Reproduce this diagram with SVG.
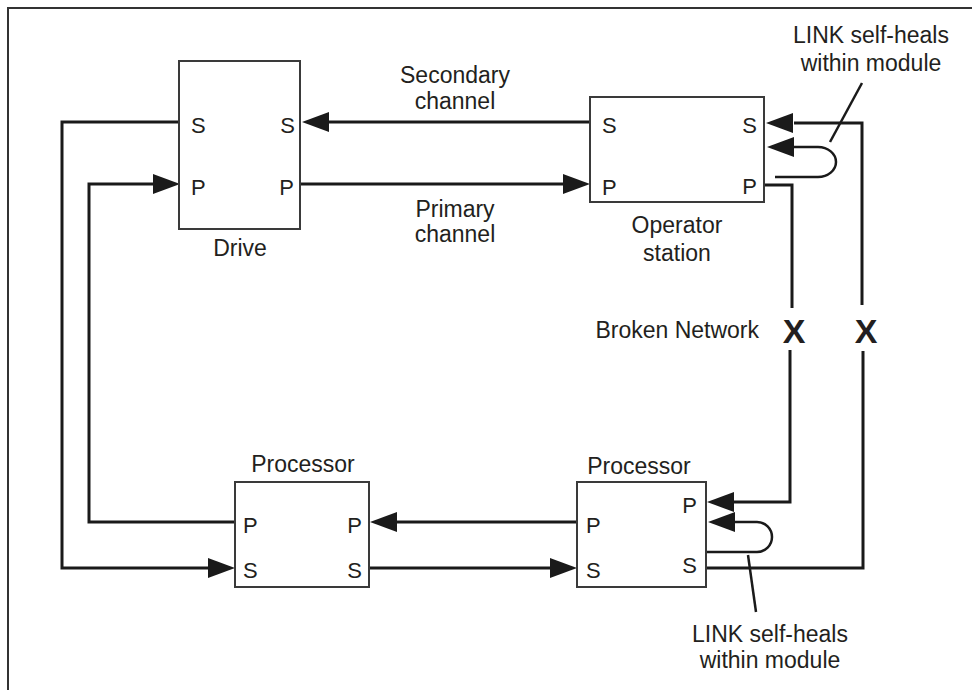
<svg xmlns="http://www.w3.org/2000/svg" xmlns:xlink="http://www.w3.org/1999/xlink" width="972" height="690" viewBox="0 0 972 690">
<style>
.txt{font-family:"Liberation Sans",Arial,sans-serif;font-size:23px;fill:#231f20}
.port{font-family:"Liberation Sans",Arial,sans-serif;font-size:22px;fill:#231f20}
.x{font-family:"Liberation Sans",Arial,sans-serif;font-size:34px;font-weight:bold;fill:#231f20}
.box{fill:#fff;stroke:#3a3a3a;stroke-width:2}
.wire{fill:none;stroke:#1a1a1a;stroke-width:3}
.loop{fill:none;stroke:#1a1a1a;stroke-width:2.5}
.lead{fill:none;stroke:#1a1a1a;stroke-width:2.5}
.ah{fill:#1a1a1a}
</style>
<defs>
<path id="ah" class="ah" d="M0,0 L-27,-10 L-27,10 Z"/>
</defs>
<rect width="972" height="690" fill="#fff"/>
<path d="M8,690 V8 H972" fill="none" stroke="#333" stroke-width="2"/>

<g id="connectors">
<path class="wire" d="M178,122 H62 V568 H210"/>
<use xlink:href="#ah" transform="translate(235,568)"/>
<path class="wire" d="M235,522 H89 V184 H154"/>
<use xlink:href="#ah" transform="translate(180,184)"/>
<path class="wire" d="M590,122 H329"/>
<use xlink:href="#ah" transform="translate(302,122) rotate(180)"/>
<path class="wire" d="M300,184 H564"/>
<use xlink:href="#ah" transform="translate(590,184)"/>
<path class="wire" d="M794,123 H862 V305"/>
<use xlink:href="#ah" transform="translate(766,123) rotate(180)"/>
<path class="wire" d="M863,351 V568 H706"/>
<path class="wire" d="M764,185 H792 V308"/>
<path class="wire" d="M790,350 V502 H734"/>
<use xlink:href="#ah" transform="translate(707,502) rotate(180)"/>
<path class="loop" d="M794,147 H818 A18,15 0 0 1 818,177 H775"/>
<use xlink:href="#ah" transform="translate(767,147) rotate(180)"/>
<path class="loop" d="M734,522 H757 A15,15 0 0 1 757,552 H706"/>
<use xlink:href="#ah" transform="translate(708,522) rotate(180)"/>
<path class="wire" d="M577,522 H396"/>
<use xlink:href="#ah" transform="translate(370,522) rotate(180)"/>
<path class="wire" d="M369,568 H551"/>
<use xlink:href="#ah" transform="translate(577,568)"/>
<path class="lead" d="M862,83 L830,142"/>
<path class="lead" d="M748,555 L756,612"/>
</g>

<g id="drive">
<rect class="box" x="179" y="61" width="121" height="168"/>
<text class="port" x="191" y="133">S</text>
<text class="port" x="295" y="133" text-anchor="end">S</text>
<text class="port" x="191" y="195">P</text>
<text class="port" x="294" y="195" text-anchor="end">P</text>
<text class="txt" x="240" y="256" text-anchor="middle">Drive</text>
</g>

<g id="operator">
<rect class="box" x="590" y="97" width="174" height="105"/>
<text class="port" x="602" y="133">S</text>
<text class="port" x="757" y="133" text-anchor="end">S</text>
<text class="port" x="602" y="195">P</text>
<text class="port" x="757" y="194" text-anchor="end">P</text>
<text class="txt" x="677" y="233" text-anchor="middle">Operator</text>
<text class="txt" x="677" y="261" text-anchor="middle">station</text>
</g>

<g id="processor1">
<rect class="box" x="235" y="482" width="134" height="105"/>
<text class="port" x="243" y="533">P</text>
<text class="port" x="362" y="533" text-anchor="end">P</text>
<text class="port" x="243" y="578">S</text>
<text class="port" x="362" y="578" text-anchor="end">S</text>
<text class="txt" x="303" y="472" text-anchor="middle">Processor</text>
</g>

<g id="processor2">
<rect class="box" x="577" y="482" width="129" height="105"/>
<text class="port" x="586" y="533">P</text>
<text class="port" x="586" y="578">S</text>
<text class="port" x="697" y="513" text-anchor="end">P</text>
<text class="port" x="697" y="573" text-anchor="end">S</text>
<text class="txt" x="639" y="474" text-anchor="middle">Processor</text>
</g>

<g id="labels">
<text class="txt" x="455" y="83" text-anchor="middle">Secondary</text>
<text class="txt" x="455" y="109" text-anchor="middle">channel</text>
<text class="txt" x="455" y="217" text-anchor="middle">Primary</text>
<text class="txt" x="455" y="242" text-anchor="middle">channel</text>
<text class="txt" x="871" y="43" text-anchor="middle">LINK self-heals</text>
<text class="txt" x="871" y="71" text-anchor="middle">within module</text>
<text class="txt" x="770" y="642" text-anchor="middle">LINK self-heals</text>
<text class="txt" x="770" y="668" text-anchor="middle">within module</text>
<text class="txt" x="759" y="338" text-anchor="end">Broken Network</text>
<text class="x" x="794" y="343" text-anchor="middle">X</text>
<text class="x" x="866" y="343" text-anchor="middle">X</text>
</g>
</svg>
